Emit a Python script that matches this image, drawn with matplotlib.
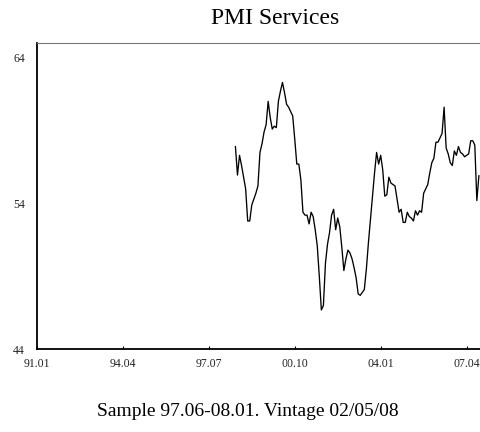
import numpy as np
import matplotlib.pyplot as plt

# PMI services, monthly readings from 98.07
pmi = [57.9, 55.95, 57.3, 56.6, 55.8, 55.0, 52.8, 52.8, 53.9, 54.3,
       54.7, 55.2, 57.5, 58.1, 58.9, 59.4, 61.0, 59.9, 59.1, 59.3,
       59.2, 61.0, 61.7, 62.3, 61.6, 60.8, 60.6, 60.3, 60.0, 58.4,
       56.7, 56.7, 55.6, 53.4, 53.2, 53.2, 52.6, 53.4, 53.1, 52.2,
       51.1, 49.0, 46.7, 47.0, 49.9, 51.2, 52.0, 53.2, 53.6, 52.2,
       53.0, 52.4, 51.0, 49.4, 50.2, 50.8, 50.6, 50.2, 49.6, 48.9,
       47.8, 47.7, 47.9, 48.1, 49.5, 51.3, 52.9, 54.5, 56.1, 57.5,
       56.7, 57.3, 56.3, 54.5, 54.6, 55.8, 55.4, 55.3, 55.2, 54.3,
       53.4, 53.6, 52.7, 52.7, 53.4, 53.1, 53.0, 52.8, 53.5, 53.2,
       53.5, 53.4, 54.7, 55.0, 55.3, 56.1, 56.8, 57.1, 58.2, 58.2,
       58.5, 58.8, 60.6, 57.8, 57.4, 56.8, 56.6, 57.6, 57.3, 57.9,
       57.5, 57.4, 57.2, 57.3, 57.4, 58.3, 58.3, 58.0, 54.2, 55.9]
first_date = 1998.5
last_date = 2007.69

tick_pos = [1991.0, 1994.25, 1997.5, 2000.75, 2004.0, 2007.25]
tick_labels = ['91.01', '94.04', '97.07', '00.10', '04.01', '07.04']
ytick_pos = [44, 54, 64]

serif = 'Liberation Serif'

fig = plt.figure(figsize=(4.8, 4.32), dpi=100)
# axes run a little past the right edge, as in the (cropped) original
ax = fig.add_axes([0.0765, 0.1914, 0.9935, 0.709])

dates = np.linspace(first_date, last_date, len(pmi))
ax.plot(dates, pmi, color='black', lw=0.95)

ax.set_xlim(1991.0, 2009.0)
ax.set_ylim(44, 65)

ax.set_xticks(tick_pos)
ax.set_xticklabels(tick_labels, fontfamily=serif, fontsize=8.5, color='#222222')
ax.set_yticks(ytick_pos)
ax.set_yticklabels([str(v) for v in ytick_pos], fontfamily=serif, fontsize=8.5, color='#222222')
ax.tick_params(axis='x', direction='in', length=2.5, width=0.8, pad=6)
ax.tick_params(axis='y', length=0, pad=8.5)

for side in ['left', 'bottom']:
    ax.spines[side].set_linewidth(1.3)
    ax.spines[side].set_color('black')
ax.spines['top'].set_linewidth(0.8)
ax.spines['top'].set_color('#777777')
ax.spines['right'].set_visible(False)

ax.set_title('PMI Services', fontfamily=serif, fontsize=17, pad=13.5)

fig.text(248 / 480, 1 - 416.5 / 432, 'Sample 97.06-08.01. Vintage 02/05/08',
         fontfamily=serif, fontsize=14, ha='center', va='baseline')

fig.savefig('out.png', dpi=100)
